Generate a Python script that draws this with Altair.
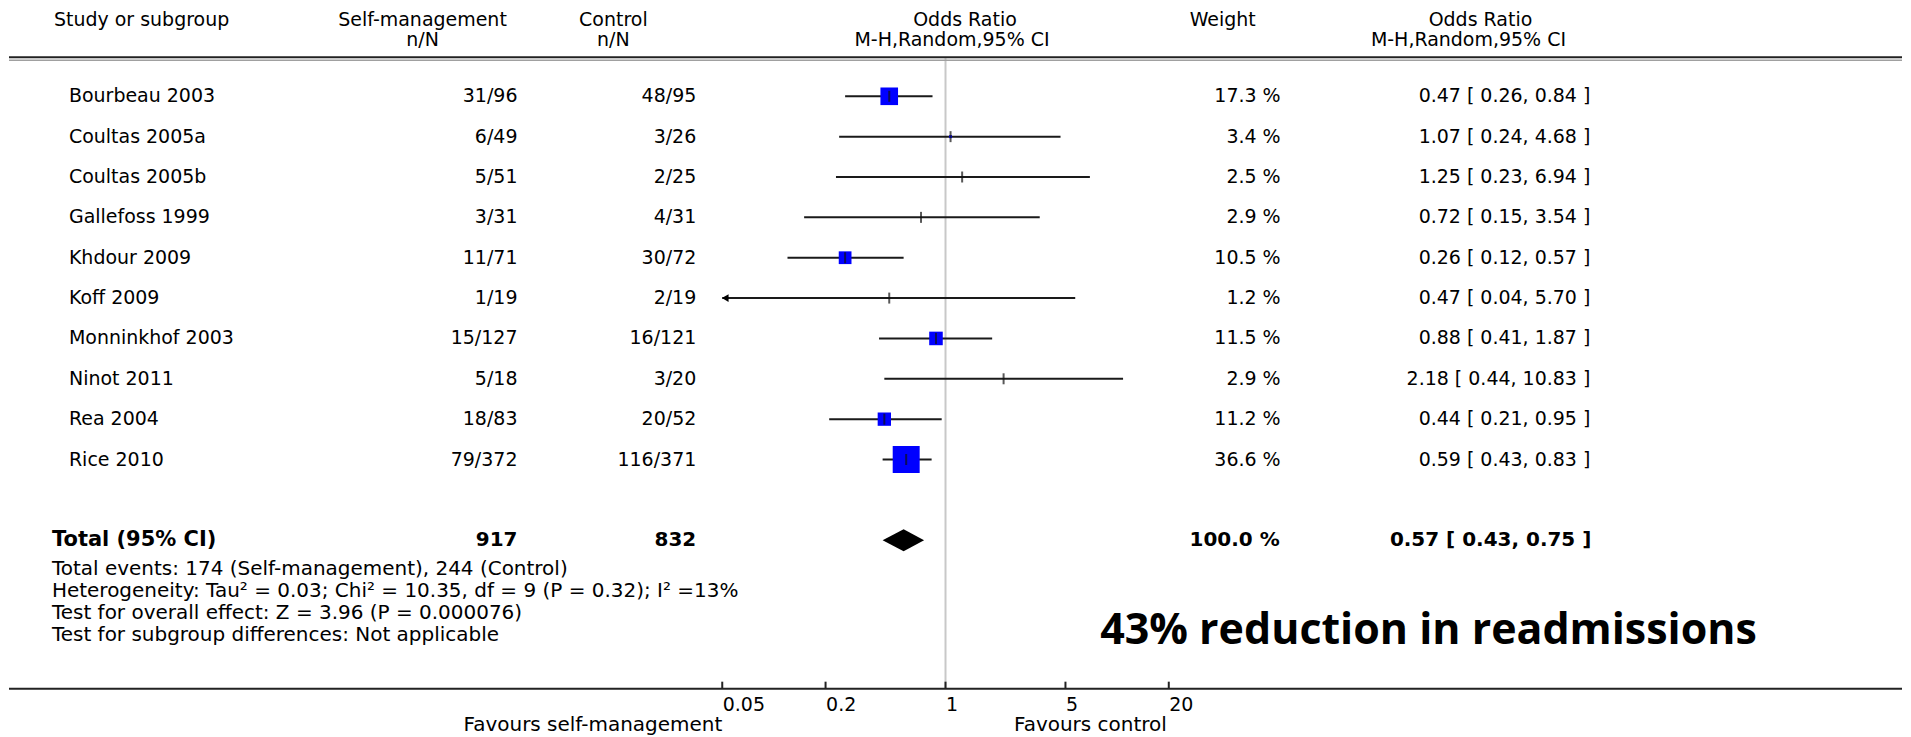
import altair as alt
import pandas as pd

# ---------------- data ----------------
studies = ["Bourbeau 2003", "Coultas 2005a", "Coultas 2005b", "Gallefoss 1999",
           "Khdour 2009", "Koff 2009", "Monninkhof 2003", "Ninot 2011",
           "Rea 2004", "Rice 2010"]
sm_events = [31, 6, 5, 3, 11, 1, 15, 5, 18, 79]
sm_total = [96, 49, 51, 31, 71, 19, 127, 18, 83, 372]
ctl_events = [48, 3, 2, 4, 30, 2, 16, 3, 20, 116]
ctl_total = [95, 26, 25, 31, 72, 19, 121, 20, 52, 371]
weights = [17.3, 3.4, 2.5, 2.9, 10.5, 1.2, 11.5, 2.9, 11.2, 36.6]
or_est = [0.47, 1.07, 1.25, 0.72, 0.26, 0.47, 0.88, 2.18, 0.44, 0.59]
or_lo = [0.26, 0.24, 0.23, 0.15, 0.12, 0.04, 0.41, 0.44, 0.21, 0.43]
or_hi = [0.84, 4.68, 6.94, 3.54, 0.57, 5.70, 1.87, 10.83, 0.95, 0.83]

total_sm = 917
total_ctl = 832
total_weight = 100.0
total_or = [0.43, 0.57, 0.75]  # lower, estimate, upper

axis_ticks = [0.05, 0.2, 1, 5, 20]
x_domain = [0.05, 20]

footnotes = [
    "Total events: 174 (Self-management), 244 (Control)",
    "Heterogeneity: Tau\u00b2 = 0.03; Chi\u00b2 = 10.35, df = 9 (P = 0.32); I\u00b2 =13%",
    "Test for overall effect: Z = 3.96 (P = 0.000076)",
    "Test for subgroup differences: Not applicable",
]
callout = "43% reduction in readmissions"

# ---------------- layout / style ----------------
W, H = 1895, 681
FONT = "DejaVu Sans"
FS = 19
NFS = 20
BFS = 20
TOTAL_ROW = 11

df = pd.DataFrame({
    "study": studies,
    "row": list(range(len(studies))),
    "sm": [f"{a}/{b}" for a, b in zip(sm_events, sm_total)],
    "ctl": [f"{a}/{b}" for a, b in zip(ctl_events, ctl_total)],
    "weight": weights,
    "wtxt": [f"{w:.1f} %" for w in weights],
    "est": or_est,
    "lo": or_lo,
    "hi": or_hi,
    "ortxt": [f"{e:.2f} [ {l:.2f}, {h:.2f} ]" for e, l, h in zip(or_est, or_lo, or_hi)],
})

xscale = alt.Scale(type="log", domain=x_domain, range=[714, 1161], nice=False)
AX = alt.Axis(values=axis_ticks, format="~g", labelAlign="left", labelFlush=False,
              ticks=False, tickSize=0, domain=False, grid=False, title=None,
              labelPadding=7, labelFont=FONT, labelFontSize=FS, labelColor="black",
              labelBaseline="top")
yscale = alt.Scale(domain=[0, 9], range=[88, 451.6], nice=False, zero=False)
Y = alt.Y("row:Q", scale=yscale, axis=None)


def X(field):
    return alt.X(field, scale=xscale, axis=AX)


base = alt.Chart(df)


def txt(text, x, y, align="left", size=FS, weight="normal", font=FONT):
    return alt.Chart(pd.DataFrame({"t": [text]})).mark_text(
        align=align, baseline="middle", font=font, fontSize=size,
        fontWeight=weight, color="black"
    ).encode(x=alt.value(x), y=alt.value(y), text="t:N")


def hrule(y, color, sw):
    return alt.Chart(pd.DataFrame({"a": [0]})).mark_rule(color=color, strokeWidth=sw).encode(
        x=alt.value(0), x2=alt.value(W), y=alt.value(y)
    )


def col(field, x, align):
    return base.mark_text(align=align, baseline="middle", font=FONT, fontSize=FS,
                          color="black").encode(x=alt.value(x), y=Y, text=f"{field}:N")


layers = []

# line of no effect (also carries the x axis labels)
layers.append(
    alt.Chart(pd.DataFrame({"v": [1]})).mark_rule(color="#c8c8c8", strokeWidth=2).encode(
        x=X("v:Q"), y=alt.value(50), y2=alt.value(H)
    )
)

# header
layers += [
    txt("Study or subgroup", 45, 12),
    txt("Self-management", 414, 12, align="center"),
    txt("n/N", 414, 32, align="center"),
    txt("Control", 605, 12, align="center"),
    txt("n/N", 605, 32, align="center"),
    txt("Odds Ratio", 957, 12, align="center"),
    txt("M-H,Random,95% CI", 944, 32, align="center"),
    txt("Weight", 1215, 12, align="center"),
    txt("Odds Ratio", 1473, 12, align="center"),
    txt("M-H,Random,95% CI", 1461, 32, align="center"),
    hrule(49, "#222222", 2),
    hrule(52, "#a0a0a0", 1.5),
]

# study texts
layers += [
    col("study", 60, "left"),
    col("sm", 509, "right"),
    col("ctl", 688, "right"),
    col("wtxt", 1273, "right"),
    col("ortxt", 1583, "right"),
]

# CI lines (clipped to the axis range)
layers.append(
    base.transform_calculate(
        lo_c="max(datum.lo, 0.05)", hi_c="min(datum.hi, 20)"
    ).mark_rule(color="#1a1a1a", strokeWidth=2).encode(
        x=X("lo_c:Q"), x2="hi_c:Q", y=Y,
    )
)

# weighted squares
layers.append(
    base.transform_filter("datum.weight > 3").mark_square(
        color="#0000ff", opacity=1, filled=True
    ).encode(
        x=X("est:Q"), y=Y,
        size=alt.Size("weight:Q", scale=alt.Scale(domain=[3, 36.6], range=[0, 729]),
                      legend=None),
    )
)

# point estimate ticks
layers.append(
    base.mark_tick(color="#111111", thickness=2, size=11, orient="vertical").encode(
        x=X("est:Q"), y=Y
    )
)

# arrow where the CI leaves the axis range
layers.append(
    base.transform_filter("datum.lo < 0.05").transform_calculate(a="0.05").mark_point(
        shape="triangle-left", filled=True, color="black", size=60, opacity=1, xOffset=3
    ).encode(x=X("a:Q"), y=Y)
)

# total row: diamond
half = 11 / ((451.6 - 88) / 9)
dia = pd.DataFrame({
    "x": [total_or[0], total_or[1], total_or[2]],
    "y": [TOTAL_ROW, TOTAL_ROW - half, TOTAL_ROW],
    "y2": [TOTAL_ROW, TOTAL_ROW + half, TOTAL_ROW],
})
layers.append(
    alt.Chart(dia).mark_area(color="black", orient="vertical", opacity=1).encode(
        x=X("x:Q"),
        y=alt.Y("y:Q", scale=yscale, axis=None),
        y2="y2:Q",
    )
)
ty = 88 + TOTAL_ROW * (451.6 - 88) / 9
layers += [
    txt("Total (95% CI)", 43, ty, size=21, weight="bold"),
    txt(str(total_sm), 509, ty, align="right", size=BFS, weight="bold"),
    txt(str(total_ctl), 688, ty, align="right", size=BFS, weight="bold"),
    txt(f"{total_weight:.1f} %", 1272, ty, align="right", size=BFS, weight="bold"),
    txt(f"{total_or[1]:.2f} [ {total_or[0]:.2f}, {total_or[2]:.2f} ]", 1584, ty,
        align="right", size=BFS, weight="bold"),
]

# footnotes
for i, f in enumerate(footnotes):
    layers.append(txt(f, 43, 561 + 22 * i, size=NFS))

# call-out
layers.append(txt(callout, 1421, 623, align="center", size=43, weight="bold",
                  font="Open Sans"))

# bottom axis line and upward ticks
layers.append(hrule(H, "#222222", 2))
layers.append(
    alt.Chart(pd.DataFrame({"t": axis_ticks})).mark_rule(color="#222222", strokeWidth=2).encode(
        x=X("t:Q"), y=alt.value(H - 7), y2=alt.value(H)
    )
)
layers += [
    txt("Favours self-management", 714, 717, align="right", size=NFS),
    txt("Favours control", 1159, 717, align="right", size=NFS),
]

chart = alt.layer(*layers).properties(
    width=W, height=H, padding=0, background="white"
).configure_view(strokeWidth=0)

chart.save("out.html", embed_options={"renderer": "svg", "actions": False})
